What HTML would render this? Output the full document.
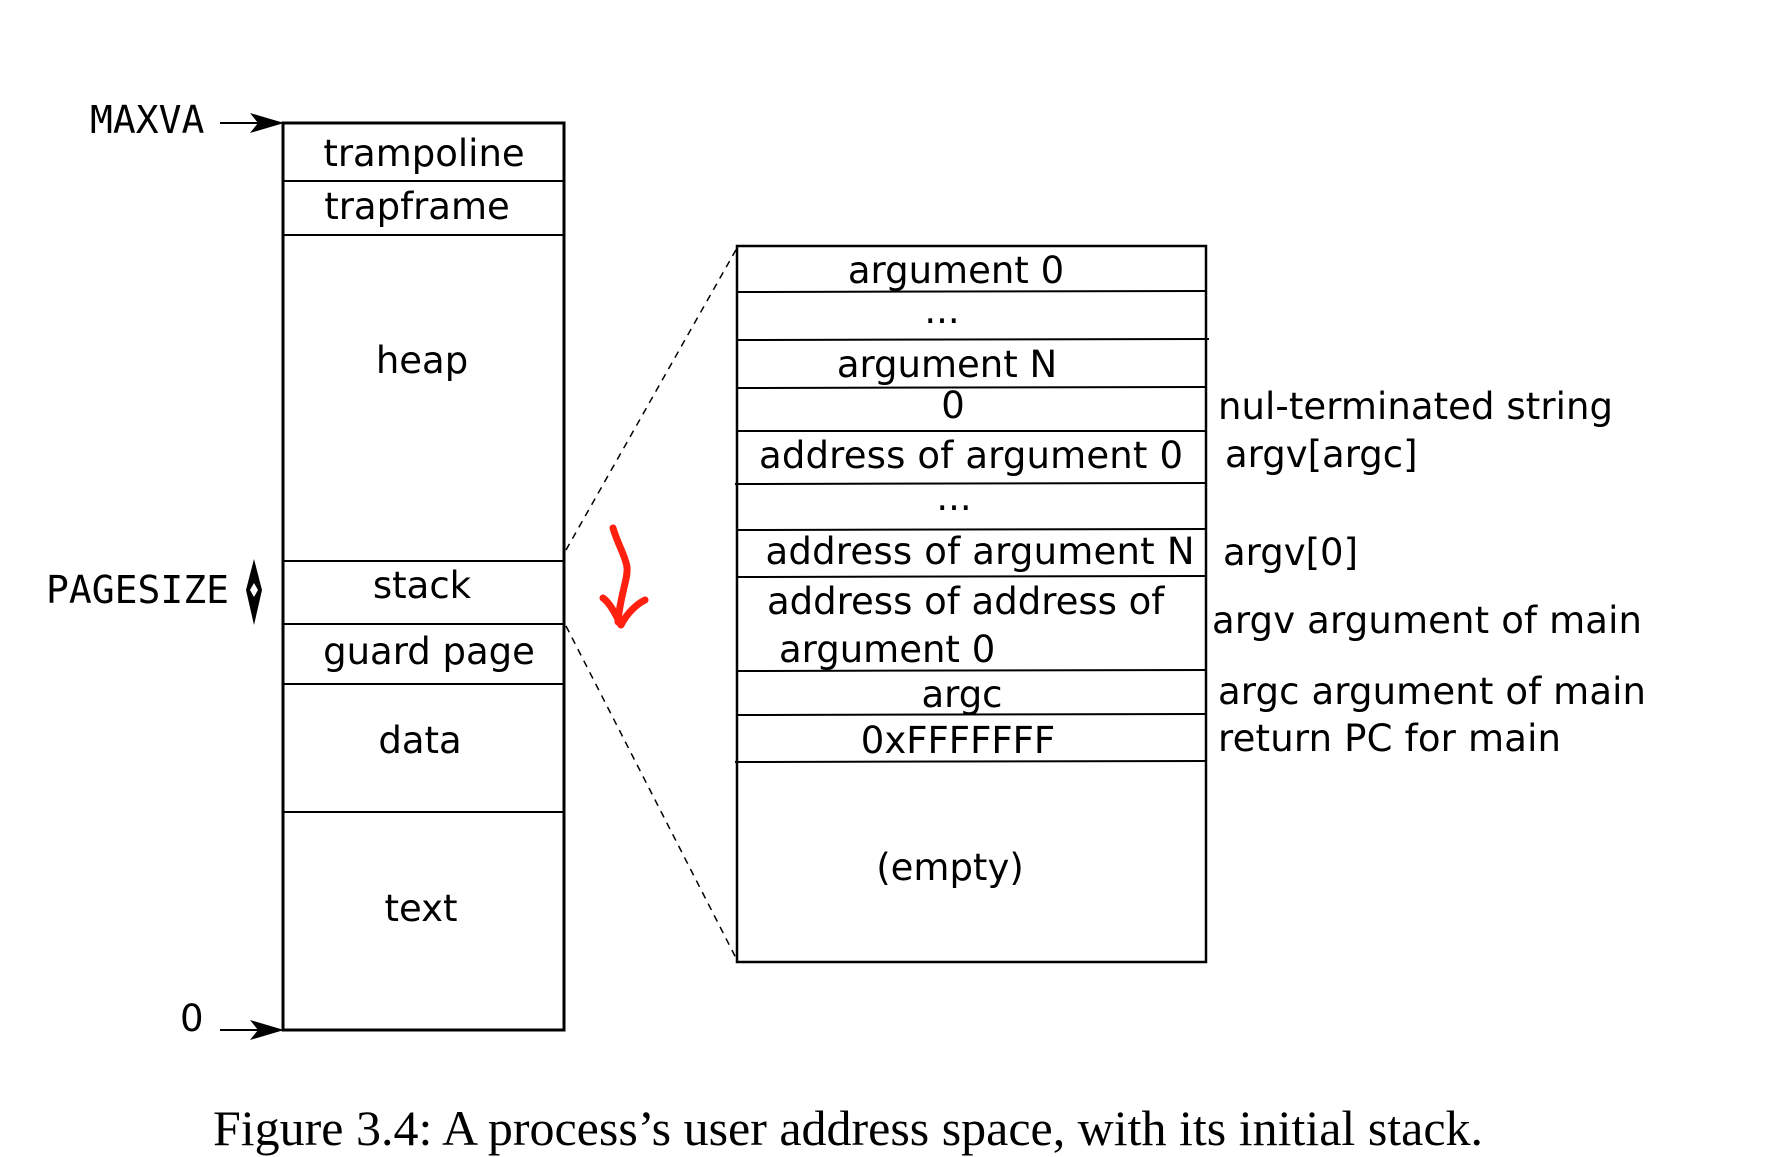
<!DOCTYPE html>
<html><head><meta charset="utf-8"><style>
html,body{margin:0;padding:0;background:#fff;}
svg{display:block;}
.s{font-family:"DejaVu Sans","Liberation Sans",sans-serif;font-size:37px;fill:#000;}
.m{font-family:"DejaVu Sans Mono","Liberation Mono",monospace;font-size:38px;fill:#000;}
.c{text-anchor:middle;}
</style></head><body>
<svg width="1774" height="1157" viewBox="0 0 1774 1157" xmlns="http://www.w3.org/2000/svg">
<rect x="283" y="123" width="281" height="907" fill="none" stroke="#000" stroke-width="3"/>
<g stroke="#000" stroke-width="2">
<line x1="283" y1="181" x2="564" y2="181"/>
<line x1="283" y1="235" x2="564" y2="235"/>
<line x1="283" y1="561" x2="564" y2="561"/>
<line x1="283" y1="624" x2="564" y2="624"/>
<line x1="283" y1="684" x2="564" y2="684"/>
<line x1="283" y1="812" x2="564" y2="812"/>
</g>
<text class="s c" x="424" y="166">trampoline</text>
<text class="s c" x="417" y="219">trapframe</text>
<text class="s c" x="422" y="373">heap</text>
<text class="s c" x="422" y="598">stack</text>
<text class="s c" x="429" y="664">guard page</text>
<text class="s c" x="420" y="753">data</text>
<text class="s c" x="421" y="921">text</text>
<text class="m" x="90" y="133">MAXVA</text>
<text class="m" x="46" y="603">PAGESIZE</text>
<text class="s" x="180" y="1031">0</text>
<line x1="220" y1="123" x2="270" y2="123" stroke="#000" stroke-width="2"/>
<path d="M284,123 L250,113 L258,123 L250,133 Z" fill="#000"/>
<line x1="220" y1="1030" x2="270" y2="1030" stroke="#000" stroke-width="2"/>
<path d="M284,1030 L250,1020 L258,1030 L250,1040 Z" fill="#000"/>
<path d="M254,559 L262,590 L254,625 L246,590 Z" fill="#000"/>
<path d="M250,590 L254,583 L258,590 L254,597 Z" fill="#fff"/>
<line x1="566" y1="550" x2="737" y2="248" stroke="#000" stroke-width="1.5" stroke-dasharray="7,6"/>
<line x1="566" y1="626" x2="737" y2="960" stroke="#000" stroke-width="1.5" stroke-dasharray="7,6"/>
<g fill="none" stroke="#ff2010" stroke-width="7" stroke-linecap="round" stroke-linejoin="round">
<path d="M613,528 C618,545 625,555 627,567 C628,580 620,595 618,622"/>
<path d="M603,598 C610,603 616,615 621,625 C626,615 635,605 645,600"/>
</g>
<rect x="737" y="246" width="469" height="716" fill="none" stroke="#000" stroke-width="2.5"/>
<g stroke="#000" stroke-width="2">
<line x1="737" y1="292" x2="1207" y2="291"/>
<line x1="737" y1="340" x2="1209" y2="339"/>
<line x1="737" y1="388" x2="1207" y2="387"/>
<line x1="737" y1="431" x2="1207" y2="431"/>
<line x1="735" y1="484" x2="1207" y2="483"/>
<line x1="737" y1="530" x2="1207" y2="529"/>
<line x1="737" y1="577" x2="1207" y2="576"/>
<line x1="737" y1="671" x2="1207" y2="670"/>
<line x1="737" y1="715" x2="1207" y2="714"/>
<line x1="735" y1="762" x2="1207" y2="761"/>
</g>
<text class="s c" x="956" y="283">argument 0</text>
<text class="s c" x="942" y="323">...</text>
<text class="s c" x="947" y="377">argument N</text>
<text class="s c" x="953" y="418">0</text>
<text class="s c" x="971" y="468" textLength="424">address of argument 0</text>
<text class="s c" x="954" y="510">...</text>
<text class="s c" x="980" y="564" textLength="429">address of argument N</text>
<text class="s" x="767" y="614">address of address of</text>
<text class="s" x="779" y="662">argument 0</text>
<text class="s c" x="962" y="707">argc</text>
<text class="s c" x="958" y="753">0xFFFFFFF</text>
<text class="s c" x="950" y="880">(empty)</text>
<text class="s" x="1218" y="419" textLength="395">nul-terminated string</text>
<text class="s" x="1225" y="467">argv[argc]</text>
<text class="s" x="1223" y="565">argv[0]</text>
<text class="s" x="1212" y="633" textLength="430">argv argument of main</text>
<text class="s" x="1218" y="704" textLength="428">argc argument of main</text>
<text class="s" x="1218" y="751" textLength="343">return PC for main</text>
<text x="213" y="1145" font-family="Liberation Serif, serif" font-size="50" textLength="1270" lengthAdjust="spacingAndGlyphs">Figure 3.4: A process’s user address space, with its initial stack.</text>
</svg>
</body></html>
